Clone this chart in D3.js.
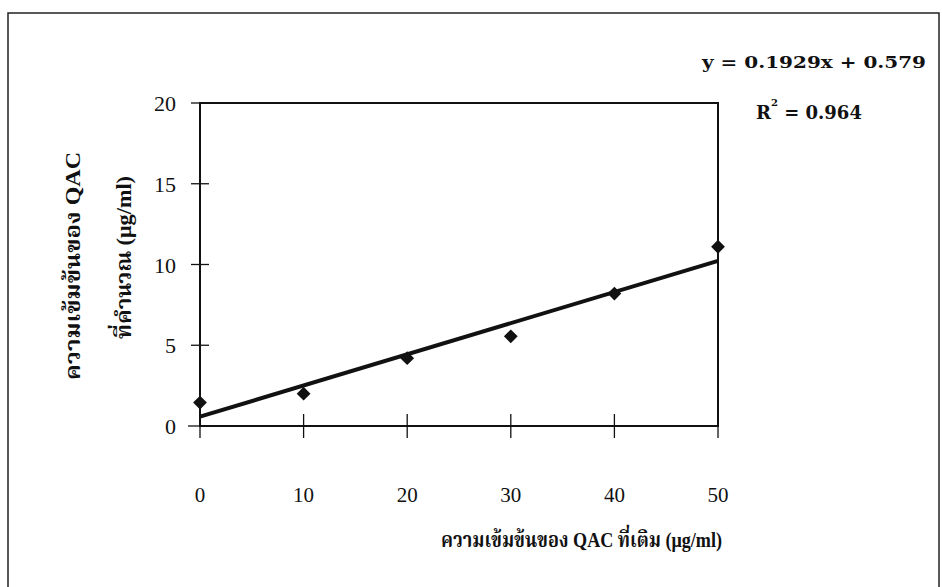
<!DOCTYPE html>
<meta charset="utf-8">
<html>
<head>
<title>QAC calibration</title>
<script src="https://d3js.org/d3.v7.min.js"></script>
<style>
  body { margin: 0; background: #fff; }
  text { font-family: "Liberation Serif", "Noto Serif Thai", "Noto Sans Thai", serif; fill: #111; }
  .bold { font-weight: bold; }
  .eq { font-family: "DejaVu Serif", serif; font-weight: bold; }
</style>
</head>
<body>
<svg width="942" height="587"></svg>
<script>
// ---- data ----
var addedConc = [0, 10, 20, 30, 40, 50];
var calcConc  = [1.45, 2.0, 4.2, 5.55, 8.2, 11.1];
var xTicks = [0, 10, 20, 30, 40, 50];
var yTicks = [0, 5, 10, 15, 20];
var slope = 0.1929, intercept = 0.579, r2 = "0.964";

var svg = d3.select("svg");

// outer frame
svg.append("rect").attr("x", 8).attr("y", 13).attr("width", 931).attr("height", 600)
   .attr("fill", "none").attr("stroke", "#222").attr("stroke-width", 1.5);

var x = d3.scaleLinear().domain([0, 50]).range([200, 718]);
var y = d3.scaleLinear().domain([0, 20]).range([426, 103]);

// plot box
svg.append("rect").attr("x", x(0)).attr("y", y(20))
   .attr("width", x(50) - x(0)).attr("height", y(0) - y(20))
   .attr("fill", "none").attr("stroke", "#111").attr("stroke-width", 2);

// y ticks (cross the axis)
svg.append("g").selectAll("line").data(yTicks).enter().append("line")
   .attr("x1", function(d) { return d == 0 ? x(0) - 12 : x(0) - 9; })
   .attr("x2", function(d) { return d == 20 ? x(0) : x(0) + 9; })
   .attr("y1", function(d) { return y(d); }).attr("y2", function(d) { return y(d); })
   .attr("stroke", "#111").attr("stroke-width", 1.3);
svg.append("g").selectAll("text").data(yTicks).enter().append("text")
   .attr("x", x(0) - 24).attr("y", function(d) { return y(d) + 8; })
   .attr("text-anchor", "end").style("font-size", "22px")
   .text(function(d) { return d; });

// x ticks
svg.append("g").selectAll("line").data(xTicks).enter().append("line")
   .attr("x1", function(d) { return x(d); }).attr("x2", function(d) { return x(d); })
   .attr("y1", y(0) - 12).attr("y2", y(0) + 12)
   .attr("stroke", "#111").attr("stroke-width", 1.3);
svg.append("g").selectAll("text").data(xTicks).enter().append("text")
   .attr("x", function(d) { return x(d); }).attr("y", 502)
   .attr("text-anchor", "middle").style("font-size", "21px")
   .text(function(d) { return d; });

// trend line
svg.append("line")
   .attr("x1", x(0)).attr("y1", y(intercept))
   .attr("x2", x(50)).attr("y2", y(slope * 50 + intercept))
   .attr("stroke", "#111").attr("stroke-width", 4);

// points
svg.append("g").selectAll("path").data(addedConc).enter().append("path")
   .attr("d", d3.symbol().type(d3.symbolSquare).size(95))
   .attr("transform", function(d, i) { return "translate(" + x(d) + "," + y(calcConc[i]) + ") rotate(45)"; })
   .attr("fill", "#111");

// equation
svg.append("text").attr("class", "eq").attr("x", 702).attr("y", 68)
   .attr("textLength", 224).attr("lengthAdjust", "spacingAndGlyphs")
   .style("font-size", "17px")
   .text("y = " + slope + "x + " + intercept);
var rt = svg.append("text").attr("class", "eq").attr("x", 756).attr("y", 119)
   .style("font-size", "18px");
rt.append("tspan").text("R");
rt.append("tspan").attr("dy", -13).style("font-size", "10px").text("2");
rt.append("tspan").attr("dy", 13).text(" = " + r2);

// axis titles
svg.append("text").attr("class", "bold").attr("x", 441).attr("y", 547)
   .attr("textLength", 281).attr("lengthAdjust", "spacingAndGlyphs")
   .style("font-size", "21px")
   .text("ความเข้มข้นของ QAC ที่เติม (μg/ml)");

svg.append("text").attr("class", "bold")
   .attr("transform", "translate(80,380) rotate(-90)")
   .attr("textLength", 228).attr("lengthAdjust", "spacingAndGlyphs")
   .style("font-size", "22px")
   .text("ความเข้มข้นของ QAC");
svg.append("text").attr("class", "bold")
   .attr("transform", "translate(131,339) rotate(-90)")
   .attr("textLength", 163).attr("lengthAdjust", "spacingAndGlyphs")
   .style("font-size", "22px")
   .text("ที่คำนวณ (μg/ml)");
</script>
</body>
</html>
